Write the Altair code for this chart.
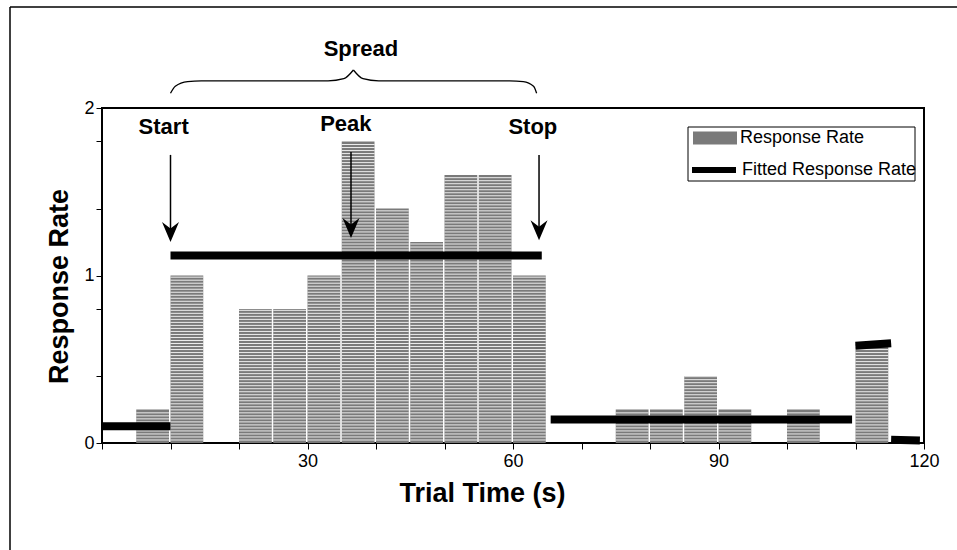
import altair as alt
import pandas as pd

# ---------------- data ----------------
bin_starts = [0, 5, 10, 15, 20, 25, 30, 35, 40, 45, 50, 55, 60, 65, 70, 75, 80, 85, 90, 95, 100, 105, 110, 115]
rates = [0, 0.2, 1.0, 0, 0.8, 0.8, 1.0, 1.8, 1.4, 1.2, 1.6, 1.6, 1.0, 0, 0, 0.2, 0.2, 0.4, 0.2, 0, 0.2, 0, 0.6, 0]
bin_width = 5

fit_x = [0, 10, 65.5, 110, 115.2]
fit_x2 = [10, 64.2, 109.5, 115.2, 119.4]
fit_y = [0.10, 1.12, 0.14, 0.58, 0.02]
fit_y2 = [0.10, 1.12, 0.14, 0.595, 0.015]

labels = ["Start", "Peak", "Stop", "Spread"]
label_x = [9.0, 35.6, 62.9, 37.8]
label_y = [1.887, 1.905, 1.887, 2.35]

arrow_x = [10, 36.35, 63.8]
arrow_top = [1.72, 1.737, 1.72]
arrow_tip = [1.20, 1.224, 1.21]

brace_x = [10.0, 10.7, 12.5, 14.5, 33.0, 35.3, 36.7,
           36.7, 38.1, 40.4, 59.5, 61.5, 63.0, 63.45]
brace_y = [2.088, 2.13, 2.158, 2.162, 2.162, 2.175, 2.227,
           2.227, 2.175, 2.162, 2.162, 2.158, 2.13, 2.088]
brace_side = ["L"] * 7 + ["R"] * 7

x_ticks = list(range(0, 121, 5))
y_ticks = [0, 0.4, 0.8, 1.0, 1.4, 1.8, 2.0]

# ---------------- tables ----------------
bars = pd.DataFrame({
    "start": bin_starts,
    "end": [s + bin_width for s in bin_starts],
    "rate": rates,
    "series": ["Response Rate"] * len(rates),
})
bars = bars[bars.rate > 0]

stripe_step = 0.018
stripe_rows = []
for s, r in zip(bin_starts, rates):
    k = 1
    while k * stripe_step < r - 0.004:
        stripe_rows.append({"start": s, "end": s + bin_width, "y": k * stripe_step})
        k += 1
stripes = pd.DataFrame(stripe_rows)

fits = pd.DataFrame({"x": fit_x, "x2": fit_x2, "y": fit_y, "y2": fit_y2,
                     "series": ["Fitted Response Rate"] * len(fit_x)})
texts = pd.DataFrame({"label": labels, "x": label_x, "y": label_y})
arrows = pd.DataFrame({"x": arrow_x, "top": arrow_top, "tip": arrow_tip})
arrows["shaft_end"] = arrows["tip"] + 0.05
brace = pd.DataFrame({"x": brace_x, "y": brace_y, "side": brace_side,
                      "order": list(range(len(brace_x)))})
dummy = pd.DataFrame({"a": [0]})

FONT = "Liberation Sans"

xscale = alt.Scale(domain=[0, 120], nice=False, zero=False)
yscale = alt.Scale(domain=[0, 2], nice=False)

x_axis = alt.Axis(
    values=x_ticks,
    labelExpr="(datum.value % 30 == 0 && datum.value > 0) ? format(datum.value, 'd') : ''",
    title="Trial Time (s)", titleX=380, titleY=50, titleBaseline="middle",
    labelPadding=3,
)
y_axis = alt.Axis(
    values=y_ticks,
    labelExpr="(datum.value == 0 || datum.value == 1 || datum.value == 2) ? format(datum.value, 'd') : ''",
    title="Response Rate", titleX=-43, titleY=178, titleAngle=-90, titleBaseline="middle",
    labelPadding=2,
)

bar_layer = alt.Chart(bars).mark_bar(x2Offset=-1.5, strokeWidth=0).encode(
    x=alt.X("start:Q", scale=xscale, axis=x_axis),
    x2="end:Q",
    y=alt.Y("rate:Q", scale=yscale, axis=y_axis),
    y2=alt.datum(0),
    fill=alt.Fill("series:N",
                  scale=alt.Scale(domain=["Response Rate"], range=["#7a7a7a"]),
                  legend=alt.Legend(title=None, orient="none", legendX=591, legendY=8,
                                    symbolType="M-1,-0.3H1V0.3H-1Z", symbolSize=1936,
                                    symbolStrokeWidth=0, labelFont=FONT, labelFontSize=18,
                                    labelColor="black", labelOffset=3, padding=0,
                                    labelLimit=300)),
)

stripe_layer = alt.Chart(stripes).mark_rule(x2Offset=-1.5, color="white",
                                            strokeWidth=1, opacity=0.85).encode(
    x=alt.X("start:Q", scale=xscale),
    x2="end:Q",
    y=alt.Y("y:Q", scale=yscale),
)

fit_layer = alt.Chart(fits).mark_rule(strokeWidth=8, strokeCap="butt").encode(
    x=alt.X("x:Q", scale=xscale),
    x2="x2:Q",
    y=alt.Y("y:Q", scale=yscale),
    y2="y2:Q",
    stroke=alt.Stroke("series:N",
                      scale=alt.Scale(domain=["Fitted Response Rate"], range=["black"]),
                      legend=alt.Legend(title=None, orient="none", legendX=587, legendY=37,
                                        symbolType="stroke", symbolSize=1936,
                                        symbolStrokeWidth=6, labelFont=FONT, labelFontSize=18,
                                        labelColor="black", labelOffset=3, padding=0,
                                        labelLimit=300)),
)

legend_box = alt.Chart(dummy).mark_rect(fill="white", fillOpacity=0, stroke="black",
                                        strokeWidth=1).encode(
    x=alt.value(586), x2=alt.value(813), y=alt.value(19), y2=alt.value(73),
)

text_layer = alt.Chart(texts).mark_text(font=FONT, fontSize=22, fontWeight="bold",
                                        color="black", baseline="middle", align="center").encode(
    x=alt.X("x:Q", scale=xscale),
    y=alt.Y("y:Q", scale=yscale),
    text="label:N",
)

shaft_layer = alt.Chart(arrows).mark_rule(color="black", strokeWidth=1.5).encode(
    x=alt.X("x:Q", scale=xscale),
    y=alt.Y("top:Q", scale=yscale),
    y2="shaft_end:Q",
)

head_layer = alt.Chart(arrows).mark_point(
    shape="M0,0L-0.85,-2L0,-1.35L0.85,-2Z", size=400, filled=True,
    fill="black", fillOpacity=1, strokeWidth=0, opacity=1,
).encode(
    x=alt.X("x:Q", scale=xscale),
    y=alt.Y("tip:Q", scale=yscale),
)

brace_layer = alt.Chart(brace).mark_line(color="black", strokeWidth=1.3,
                                         interpolate="monotone").encode(
    x=alt.X("x:Q", scale=xscale),
    y=alt.Y("y:Q", scale=yscale),
    detail="side:N",
    order="order:Q",
)

frame_top = alt.Chart(dummy).mark_rule(color="black", strokeWidth=1.5).encode(
    x=alt.value(-92), x2=alt.value(855), y=alt.value(-101),
)
frame_left = alt.Chart(dummy).mark_rule(color="black", strokeWidth=1.5).encode(
    x=alt.value(-92), y=alt.value(-101), y2=alt.value(442),
)

chart = alt.layer(
    frame_top, frame_left,
    bar_layer, stripe_layer, fit_layer,
    shaft_layer, head_layer, text_layer, brace_layer, legend_box,
).resolve_scale(fill="independent", stroke="independent").properties(
    width=822, height=335,
    autosize=alt.AutoSizeParams(type="none"),
    padding={"left": 102, "top": 108, "right": 33, "bottom": 107},
    background="white",
).configure_view(stroke="black", strokeWidth=2).configure_axis(
    labelFont=FONT, labelFontSize=18, labelColor="black", labelFlush=False,
    titleFont=FONT, titleFontSize=27, titleFontWeight="bold", titleColor="black",
    tickSize=6, tickColor="black", domainColor="black", grid=False,
)

chart.save("out.html", embed_options={"renderer": "svg", "actions": False})
